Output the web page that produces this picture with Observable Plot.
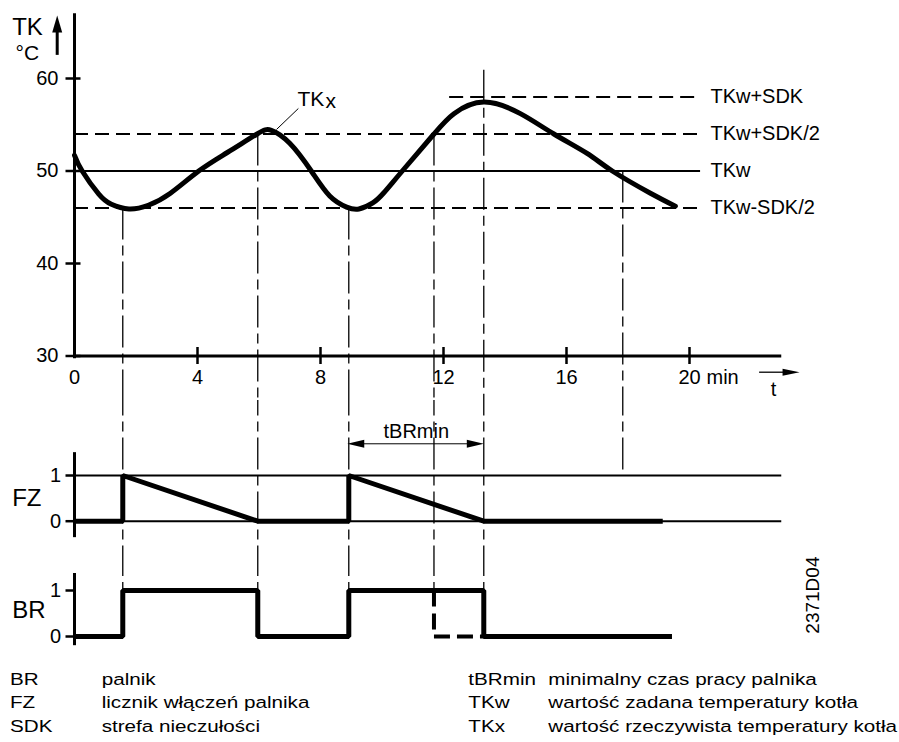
<!DOCTYPE html>
<html>
<head>
<meta charset="utf-8">
<script src="https://cdn.jsdelivr.net/npm/d3@7"></script>
<script src="https://cdn.jsdelivr.net/npm/@observablehq/plot@0.6"></script>
<style>
  body { margin: 0; background: #fff; }
  #chart { width: 899px; }
  #chart svg { display: block; }
</style>
</head>
<body>
<div id="chart"></div>
<script>
// ---------- data ----------
const tkTime = [0, 0.25, 0.79, 1.2, 1.77, 2.4, 3.12, 4.04, 4.97, 5.94, 6.4, 7.0, 7.7, 8.3, 8.85, 9.25, 9.7, 10.06, 10.66, 11.69, 12.34, 13.31, 14.5, 15.59, 16.67, 17.49, 18.73, 19.54];
const tkTemp = [51.7, 50, 47.5, 46.4, 45.9, 46.3, 47.6, 50, 52.0, 54, 54.4, 53.0, 50, 47.3, 46.1, 45.9, 46.55, 47.65, 50, 54, 56.2, 57.45, 56.2, 54, 51.9, 50, 47.6, 46.2];

const levelValue = [58, 54, 50, 46];
const levelLabel = ["TKw+SDK", "TKw+SDK/2", "TKw", "TKw-SDK/2"];
const levelStart = [12.2, 0, 0, 0];
const levelDashed = [true, true, false, true];
const levelEnd = 20.36;

const xTicks = [0, 4, 8, 12, 16, 20];
const xTickMarks = [4, 8, 12, 16, 20];
const yTicks = [30, 40, 50, 60];

const eventTime = [1.57, 5.96, 8.92, 11.69, 13.31, 17.83];
const eventTop = [46, 54, 46, 54, 60.9, 50];
const eventEnd = ["BR", "BR", "BR", "BR", "BR", "FZ"];

const fzTime = [0, 1.57, 1.57, 5.96, 8.92, 8.92, 13.31, 19.13];
const fzValue = [0, 0, 1, 0, 0, 1, 0, 0];

const brTime = [0, 1.57, 5.96, 8.92, 13.31, 19.43];
const brValue = [0, 1, 0, 1, 0, 0];
const brAltTime = [11.69, 11.69, 13.31];
const brAltValue = [1, 0, 0];

const tbrStart = 8.92, tbrEnd = 13.31;

const legendTerm1 = ["BR", "FZ", "SDK"];
const legendDesc1 = ["palnik", "licznik włączeń palnika", "strefa nieczułości"];
const legendTerm2 = ["tBRmin", "TKw", "TKx"];
const legendDesc2 = ["minimalny czas pracy palnika", "wartość zadana temperatury kotła", "wartość rzeczywista temperatury kotła"];

// ---------- helpers ----------
const FONT = "'Liberation Sans', Arial, Helvetica, sans-serif";
const tk = tkTime.map((t, i) => ({t, v: tkTemp[i]}));
const levels = levelValue.map((v, i) => ({v, label: levelLabel[i], x1: levelStart[i], dashed: levelDashed[i]}));
const events = eventTime.map((t, i) => ({t, top: eventTop[i], end: eventEnd[i]}));
const fz = fzTime.map((t, i) => ({t, v: fzValue[i]}));
const br = brTime.map((t, i) => ({t, v: brValue[i]}));
const brAlt = brAltTime.map((t, i) => ({t, v: brAltValue[i]}));

const stub = {draw(ctx, l) { ctx.moveTo(0, 0); ctx.lineTo(0, -l); }};
const head = (w, h) => ({draw(ctx) { ctx.moveTo(0, 0); ctx.lineTo(w / 2, h); ctx.lineTo(-w / 2, h); ctx.closePath(); }});
const DASHDOT = "32,6,10,6";

const base = (height, marginTop, marginBottom) => ({
  width: 899, height, marginLeft: 74, marginRight: 117.75, marginTop, marginBottom,
  x: {domain: [0, 23], axis: null},
  style: {fontFamily: FONT, fontSize: "20px", overflow: "hidden", color: "black", background: "white"}
});

// ---------- panel A : temperature ----------
const panelA = Plot.plot({
  ...base(400, 78, 44.5),
  y: {domain: [30, 60]},
  marks: [
    Plot.ruleY(levels.filter(d => d.dashed), {y: "v", x1: "x1", x2: levelEnd, strokeWidth: 2, strokeDasharray: "14,7"}),
    Plot.ruleY(levels.filter(d => !d.dashed), {y: "v", x1: "x1", x2: levelEnd, strokeWidth: 2}),
    Plot.text(levels, {x: 20.68, y: "v", text: "label", textAnchor: "start", lineAnchor: "middle", fontSize: 20}),
    Plot.ruleX(events, {x: "t", y1: "top", y2: 20, strokeWidth: 1.3, strokeDasharray: DASHDOT}),
    Plot.line(tk, {x: "t", y: "v", curve: "natural", strokeWidth: 5}),
    // axes lines
    Plot.ruleX([0], {y1: 29.7, y2: 67, strokeWidth: 3}),
    Plot.ruleY([30], {x1: 0, x2: 23, strokeWidth: 3}),
    Plot.vector(yTicks, {x: 0, y: d => d, dx: -9, length: 15, rotate: 90, anchor: "start", shape: stub, strokeWidth: 2.5, strokeLinecap: "butt"}),
    Plot.vector(xTickMarks, {x: d => d, y: 30, dy: 8, length: 17, rotate: 0, anchor: "start", shape: stub, strokeWidth: 2.5, strokeLinecap: "butt"}),
    Plot.axisY(yTicks, {tickSize: 0, tickPadding: 16, fontSize: 20, label: null}),
    Plot.axisX(xTicks, {tickSize: 0, tickPadding: 13.3, fontSize: 20, label: null}),
    Plot.text(["min"], {x: 20, y: 30, dx: 17, dy: 27.5, textAnchor: "start", lineAnchor: "bottom", fontSize: 20}),
    // t arrow
    Plot.ruleY([30], {x1: 22.28, x2: 23.1, dy: 16.2, strokeWidth: 1.3}),
    Plot.dot([23.58], {x: d => d, y: 30, dy: 16.2, symbol: head(7, 17), rotate: 90, fill: "black", stroke: "none"}),
    Plot.text(["t"], {x: 22.73, y: 30, dy: 39.5, textAnchor: "middle", lineAnchor: "bottom", fontSize: 20}),
    // TK arrow & label
    Plot.ruleX([0], {y1: 62.5, y2: 65.5, dx: -17.3, strokeWidth: 3}),
    Plot.dot([66.8], {x: 0, y: d => d, dx: -17.3, symbol: head(10, 17), fill: "black", stroke: "none"}),
    Plot.text(["TK"], {x: 0, y: 64.65, dx: -62.3, textAnchor: "start", lineAnchor: "bottom", fontSize: 24}),
    Plot.text(["°C"], {x: 0, y: 61.95, dx: -59, textAnchor: "start", lineAnchor: "bottom", fontSize: 21}),
    // TKx label
    Plot.link([0], {x1: 7.28, y1: 56.76, x2: 6.57, y2: 54.49, strokeWidth: 1}),
    Plot.text(["TK"], {x: 7.25, y: 57.08, textAnchor: "start", lineAnchor: "bottom", fontSize: 21}),
    Plot.text(["x"], {x: 8.16, y: 56.86, textAnchor: "start", lineAnchor: "bottom", fontSize: 21})
  ]
});

// ---------- panel B : FZ ----------
const panelB = Plot.plot({
  ...base(155, 75, 34.3),
  y: {domain: [0, 1], axis: null},
  marks: [
    Plot.ruleY([0, 1], {x1: 0, x2: 23, strokeWidth: 2}),
    Plot.ruleX(events, {x: "t", y1: 3, y2: d => d.end === "FZ" ? 1 : -1, strokeWidth: 1.3, strokeDasharray: DASHDOT}),
    Plot.ruleX([0], {y1: -0.36, y2: 1.5, strokeWidth: 3}),
    Plot.vector([0, 1], {x: 0, y: d => d, dx: -9, length: 9, rotate: 90, anchor: "start", shape: stub, strokeWidth: 2.5, strokeLinecap: "butt"}),
    Plot.text([0, 1], {x: 0, y: d => d, dx: -13.5, text: d => String(d), textAnchor: "end", lineAnchor: "middle", fontSize: 20}),
    Plot.text(["FZ"], {x: 0, y: 0.5, dx: -62.3, textAnchor: "start", lineAnchor: "middle", fontSize: 24}),
    Plot.line(fz, {x: "t", y: "v", strokeWidth: 5, strokeLinejoin: "miter", strokeLinecap: "butt"}),
    // tBRmin dimension
    Plot.ruleY([1.694], {x1: tbrStart + 0.4, x2: tbrEnd - 0.4, strokeWidth: 1}),
    Plot.dot([tbrStart - 0.05], {x: d => d, y: 1.694, symbol: head(8, 17), rotate: -90, fill: "black", stroke: "none"}),
    Plot.dot([tbrEnd], {x: d => d, y: 1.694, symbol: head(8, 17), rotate: 90, fill: "black", stroke: "none"}),
    Plot.text(["tBRmin"], {x: (tbrStart + tbrEnd) / 2, y: 1.81, textAnchor: "middle", lineAnchor: "bottom", fontSize: 20})
  ]
});

// ---------- panel C : BR ----------
const panelC = Plot.plot({
  ...base(105, 35, 24),
  y: {domain: [0, 1], axis: null},
  marks: [
    Plot.ruleX(events.filter(d => d.end === "BR"), {x: "t", y1: 2, y2: 1, strokeWidth: 1.3, strokeDasharray: DASHDOT}),
    Plot.ruleX([0], {y1: -0.2, y2: 1.37, strokeWidth: 3}),
    Plot.vector([0, 1], {x: 0, y: d => d, dx: -9, length: 9, rotate: 90, anchor: "start", shape: stub, strokeWidth: 2.5, strokeLinecap: "butt"}),
    Plot.text([0, 1], {x: 0, y: d => d, dx: -13.5, text: d => String(d), textAnchor: "end", lineAnchor: "middle", fontSize: 20}),
    Plot.text(["BR"], {x: 0, y: 0.565, dx: -62.3, textAnchor: "start", lineAnchor: "middle", fontSize: 24}),
    Plot.line(br, {x: "t", y: "v", curve: "step-after", strokeWidth: 5, strokeLinejoin: "miter", strokeLinecap: "butt"}),
    Plot.line(brAlt, {x: "t", y: "v", strokeWidth: 4, strokeDasharray: "16,7", strokeLinejoin: "miter", strokeLinecap: "butt"}),
    Plot.text(["2371D04"], {x: 24.02, y: 0.9, rotate: -90, textAnchor: "middle", lineAnchor: "middle", fontSize: 19})
  ]
});

const chart = document.getElementById("chart");
chart.append(panelA, panelB, panelC);

// ---------- legend ----------
const legend = d3.create("svg").attr("width", 899).attr("height", 82).style("display", "block")
  .attr("font-family", FONT).attr("font-size", 17);
const sx = 1.215;
const g = legend.append("g").attr("transform", `scale(${sx},1)`);
const rowsY = [25, 48.3, 71.7];
const cols = [[10, legendTerm1], [101.7, legendDesc1], [468.3, legendTerm2], [548.3, legendDesc2]];
cols.forEach(([x, arr]) => {
  arr.forEach((s, i) => {
    g.append("text").attr("x", x / sx).attr("y", rowsY[i]).text(s);
  });
});
chart.append(legend.node());
</script>
</body>
</html>
